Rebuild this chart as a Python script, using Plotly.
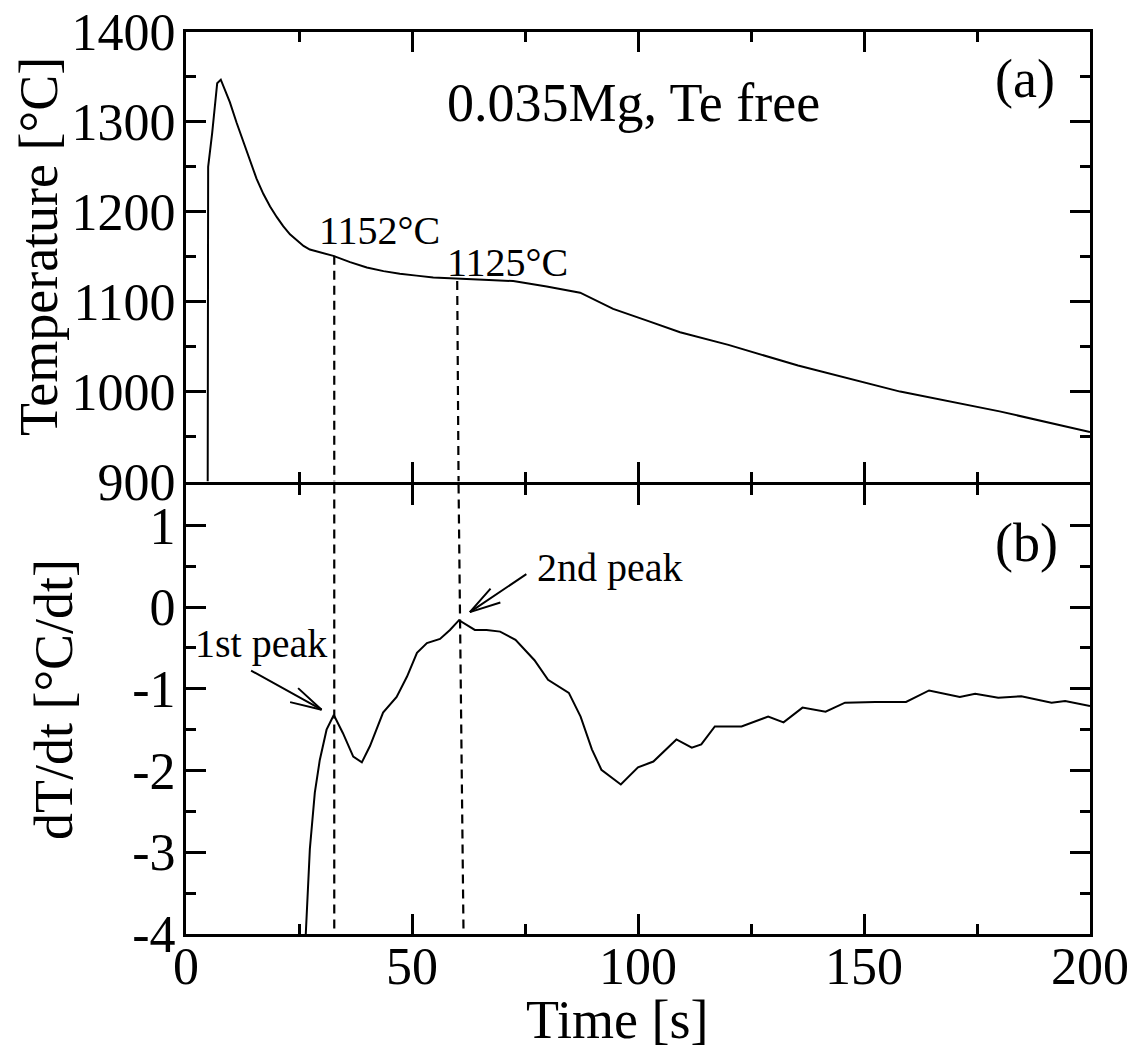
import plotly.graph_objects as go
from plotly.subplots import make_subplots

# ---- data ----
temp_time = [4.8, 4.9, 5.8, 6.9, 7.7, 8.6, 9.7, 11.2, 12.7, 14.2, 15.6, 17.1, 18.6, 20.1,
             21.5, 23.0, 24.5, 26.0, 27.4, 28.9, 30.4, 32.6, 36.3, 40.0, 43.7, 47.3, 51.0,
             54.7, 58.4, 62.0, 67.0, 72.4, 79.8, 87.2, 94.5, 102.0, 109.3, 120.0, 135.4,
             158.0, 180.0, 200.0]
temp_val = [900, 1250, 1288, 1343, 1347, 1336, 1322, 1299, 1278, 1256, 1237, 1220, 1206, 1194,
            1184, 1175, 1168, 1162, 1158, 1156, 1154, 1151, 1144, 1138, 1134, 1131, 1129,
            1127, 1126, 1125, 1124, 1123, 1117, 1110, 1092, 1079, 1066, 1052, 1029,
            1000, 978, 955]

rate_time = [26.5, 27.4, 28.5, 29.6, 31.1, 32.7, 34.7, 37.0, 38.9, 40.7, 43.6, 46.6, 48.9,
             51.1, 53.3, 56.2, 58.4, 60.4, 63.9, 66.5, 69.5, 72.9, 77.1, 80.1, 84.7, 87.3,
             89.8, 91.9, 96.2, 100.0, 103.4, 108.5, 111.9, 114.0, 117.0, 122.9, 128.8,
             132.2, 136.4, 141.5, 145.8, 152.5, 159.3, 164.4, 171.2, 174.6, 179.7, 184.8,
             191.5, 194.5, 200.0]
rate_val = [-4.0, -2.96, -2.27, -1.87, -1.5, -1.32, -1.54, -1.83, -1.9, -1.7, -1.29, -1.1, -0.85,
            -0.56, -0.44, -0.39, -0.28, -0.16, -0.28, -0.28, -0.30, -0.40, -0.65, -0.89, -1.05,
            -1.34, -1.74, -1.99, -2.17, -1.96, -1.89, -1.62, -1.72, -1.68, -1.46, -1.46, -1.34,
            -1.41, -1.23, -1.28, -1.17, -1.16, -1.16, -1.02, -1.10, -1.06, -1.11, -1.09,
            -1.17, -1.15, -1.21]

x_ticks = [0, 50, 100, 150, 200]
x_minor = [25, 75, 125, 175]
temp_ticks = [900, 1000, 1100, 1200, 1300, 1400]
temp_minor = [950, 1050, 1150, 1250, 1350]
rate_ticks = [-4, -3, -2, -1, 0, 1]
rate_ticklabels = ["-4", "-3", "-2", "-1", "0", "1"]
rate_minor = [-3.5, -2.5, -1.5, -0.5, 0.5]

peak1_time, peak1_temp = 32.8, 1151
peak2_time, peak2_temp = 60.0, 1123
peak2_time_mid, peak2_time_bottom = 60.3, 61.4

FONT = "Liberation Serif"
W, H = 1137, 1053
ML, MR, MT, MB = 186, 47, 32, 119
LW = 3
pw = W - ML - MR
ph = H - MT - MB
gap = LW / ph  # so both axis lines on the shared border coincide

fig = make_subplots(rows=2, cols=1, shared_xaxes=True, vertical_spacing=gap)

fig.add_trace(go.Scatter(x=temp_time, y=temp_val, mode="lines",
                         line=dict(color="black", width=2), showlegend=False), row=1, col=1)
fig.add_trace(go.Scatter(x=rate_time, y=rate_val, mode="lines",
                         line=dict(color="black", width=2), showlegend=False), row=2, col=1)

axis_common = dict(showline=True, linecolor="black", linewidth=LW, mirror="ticks",
                   ticks="inside", ticklen=20, tickwidth=2.5, tickcolor="black",
                   showgrid=False, zeroline=False, automargin=False,
                   tickfont=dict(family=FONT, size=52, color="black"))

fig.update_xaxes(range=[0, 200], tickmode="array", tickvals=x_ticks,
                 minor=dict(tickmode="array", tickvals=x_minor, ticks="inside", ticklen=10,
                            tickwidth=2.5, tickcolor="black", showgrid=False),
                 **axis_common)
fig.update_xaxes(showticklabels=False, row=1, col=1)
fig.update_xaxes(showticklabels=True, ticklabelstandoff=-15, row=2, col=1)

fig.update_yaxes(range=[900, 1400], tickmode="array", tickvals=temp_ticks,
                 minor=dict(tickmode="array", tickvals=temp_minor, ticks="inside", ticklen=10,
                            tickwidth=2.5, tickcolor="black", showgrid=False),
                 ticklabelstandoff=-3, row=1, col=1, **axis_common)
fig.update_yaxes(range=[-4, 1.5], tickmode="array", tickvals=rate_ticks, ticktext=rate_ticklabels,
                 minor=dict(tickmode="array", tickvals=rate_minor, ticks="inside", ticklen=10,
                            tickwidth=2.5, tickcolor="black", showgrid=False),
                 ticklabelstandoff=-3, row=2, col=1, **axis_common)

# dashed guide lines
dash_line = dict(color="black", width=2.2, dash="9px,6px")
fig.add_shape(type="line", xref="x", yref="y", x0=peak1_time, x1=peak1_time,
              y0=peak1_temp, y1=900, line=dash_line)
fig.add_shape(type="line", xref="x2", yref="y2", x0=peak1_time, x1=peak1_time,
              y0=1.5, y1=-4, line=dash_line)
fig.add_shape(type="line", xref="x", yref="y", x0=peak2_time, x1=peak2_time_mid,
              y0=peak2_temp, y1=900, line=dash_line)
fig.add_shape(type="line", xref="x2", yref="y2", x0=peak2_time_mid, x1=peak2_time_bottom,
              y0=1.5, y1=-4, line=dash_line)

def txt(text, x, y, xref, yref, size, **kw):
    fig.add_annotation(text=text, x=x, y=y, xref=xref, yref=yref, showarrow=False,
                       font=dict(family=FONT, size=size, color="black"),
                       xanchor="center", yanchor="middle", **kw)

txt("0.035Mg, Te free", 99.1, 1320.7, "x", "y", 54)
txt("(a)", 185.6, 1348, "x", "y", 54)
txt("(b)", 186, 0.78, "x2", "y2", 54)
txt("1152°C", 42.7, 1179.4, "x", "y", 40)
txt("1125°C", 71.2, 1143.4, "x", "y", 40)
txt("1st peak", 16.6, -0.45, "x2", "y2", 40)
txt("2nd peak", 93.8, 0.49, "x2", "y2", 40)

# axis titles
txt("Temperature [°C]", 0, (H - MB - 247) / ph, "paper", "paper", 54,
    textangle=-90, xshift=-(ML - 39))
txt("dT/dt [°C/dt]", 0, (H - MB - 700) / ph, "paper", "paper", 54,
    textangle=-90, xshift=-(ML - 54))
txt("Time [s]", (617 - ML) / pw, (H - MB - 1020) / ph, "paper", "paper", 54)

# open arrows (shaft + two barbs), offsets in pixels from the arrow tip
def arrow(xh, yh, segs):
    for ax, ay in segs:
        fig.add_annotation(x=xh, y=yh, xref="x2", yref="y2", ax=ax, ay=ay, text="",
                           showarrow=True, arrowhead=0, arrowwidth=2, arrowcolor="black",
                           standoff=0, startstandoff=0, font=dict(size=1))

arrow(30.0, -1.256, [(-72, -40), (-25, -23), (-33, -8)])
arrow(62.8, -0.061, [(58, -39), (22, -25), (32, -10)])

fig.update_layout(width=W, height=H, margin=dict(l=ML, r=MR, t=MT, b=MB, autoexpand=False),
                  plot_bgcolor="white", paper_bgcolor="white", showlegend=False)

fig.write_html("out.html", config={"displayModeBar": False},
               post_script="document.body.style.margin='0';document.body.style.overflow='hidden';")
